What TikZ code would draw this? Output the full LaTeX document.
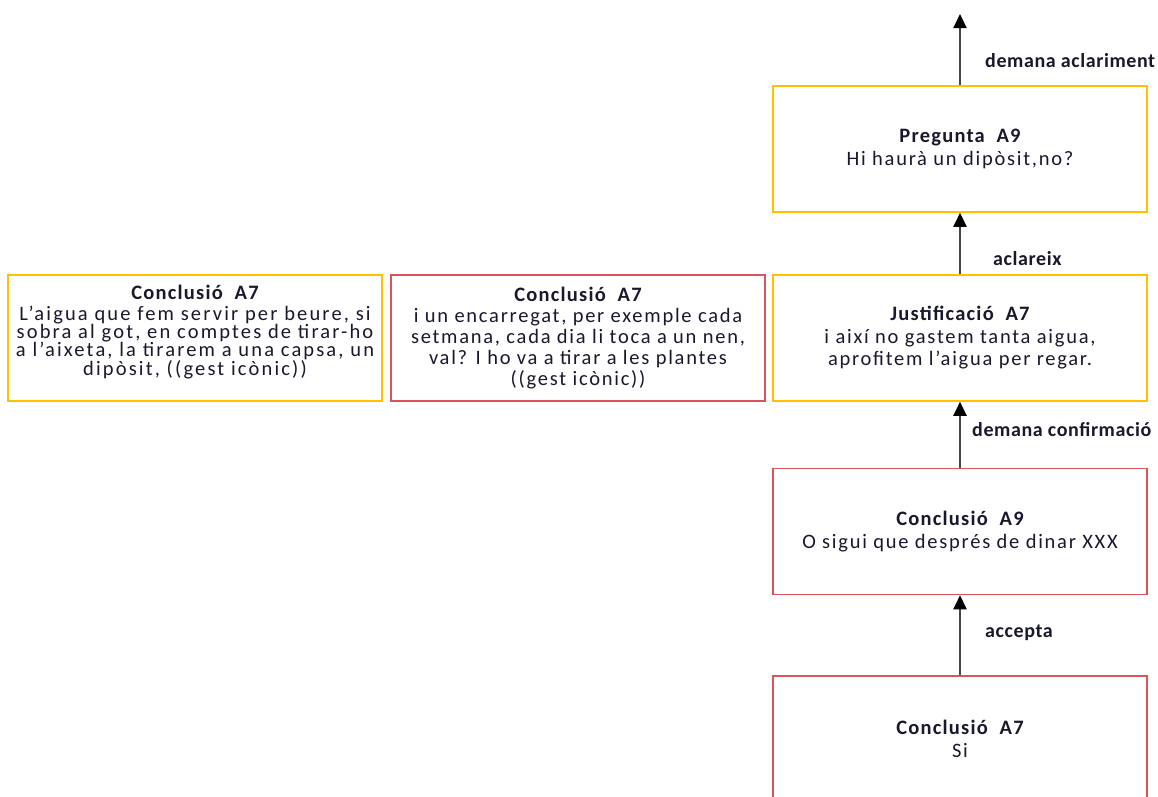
\documentclass[tikz,border=0pt]{standalone}
\usepackage{fontspec}
\setmainfont{Carlito}[LetterSpace=8.5,BoldFeatures={LetterSpace=3}]
\newfontfamily\titlefont{Carlito}[LetterSpace=6]
\newfontfamily\widefont{Carlito}[LetterSpace=10.5]
\usetikzlibrary{arrows.meta}
\definecolor{boxyellow}{RGB}{255,192,0}
\definecolor{boxred}{RGB}{222,82,90}
\definecolor{linkgray}{RGB}{70,70,70}
\definecolor{inktext}{RGB}{25,25,45}
% box heading: bold, tracked like the body text, wide gap before the code
\newcommand{\boxhead}[2]{{\titlefont\bfseries #1\ \ #2}}
\tikzset{
  argbox/.style={draw, line width=1.5pt, minimum width=374pt, minimum height=126pt,
    inner sep=0pt, align=center, text=inktext, font=\fontsize{20.5}{22.5}\selectfont},
  yellowbox/.style={argbox, draw=boxyellow},
  redbox/.style={argbox, draw=boxred},
  link/.style={draw=linkgray, line width=2pt, -{Triangle[width=13pt,length=14pt,fill=black,color=black]}},
  linklabel/.style={anchor=west, inner sep=0pt, text=inktext, font=\fontsize{20}{22}\selectfont\bfseries}
}
\begin{document}
\begin{tikzpicture}[x=1pt,y=-1pt]
  \useasboundingbox (0,0) rectangle (1158,796);
  \clip (0,0) rectangle (1158,796);
  \fill[white] (0,0) rectangle (1158,796);

  % right-hand column of the argument
  \node[yellowbox] (preg) at (960,149)
    {\boxhead{Pregunta}{A9}\\Hi haurà un dipòsit,no?};
  \node[yellowbox] (just) at (960,338)
    {\boxhead{Justificació}{A7}\\i així no gastem tanta aigua,\\aprofitem l’aigua per regar.};
  \node[redbox] (concA9) at (960,531.5)
    {\boxhead{Conclusió}{A9}\\O sigui que després de dinar XXX};
  \node[redbox] (concA7) at (960,739)
    {\boxhead{Conclusió}{A7}\\Si};

  % left-hand boxes
  \node[yellowbox, font=\fontsize{20.5}{18}\widefont, text depth=15pt] (left1) at (195,338)
    {\boxhead{Conclusió}{A7}\\[3pt]L’aigua que fem servir per beure, si\\sobra al got, en comptes de tirar-ho\\a l’aixeta, la tirarem a una capsa, un\\dipòsit, ((gest icònic))};
  \node[redbox, font=\fontsize{20.5}{21}\selectfont] (left2) at (578,338)
    {\boxhead{Conclusió}{A7}\\i un encarregat, per exemple cada\\setmana, cada dia li toca a un nen,\\val? I ho va a tirar a les plantes\\((gest icònic))};

  \coordinate (up) at (960,14);

  % links between the boxes
  \draw[link] (preg.north) -- (up);
  \draw[link] (just.north) -- (preg.south);
  \draw[link] (concA9.north) -- (just.south);
  \draw[link] (concA7.north) -- (concA9.south);

  \node[linklabel] (l1) at (985,61) {demana aclariment};
  \node[linklabel] (l2) at (993,259) {aclareix};
  \node[linklabel] (l3) at (972,430) {demana confirmació};
  \node[linklabel] (l4) at (985,633) {accepta};
\end{tikzpicture}
\end{document}
